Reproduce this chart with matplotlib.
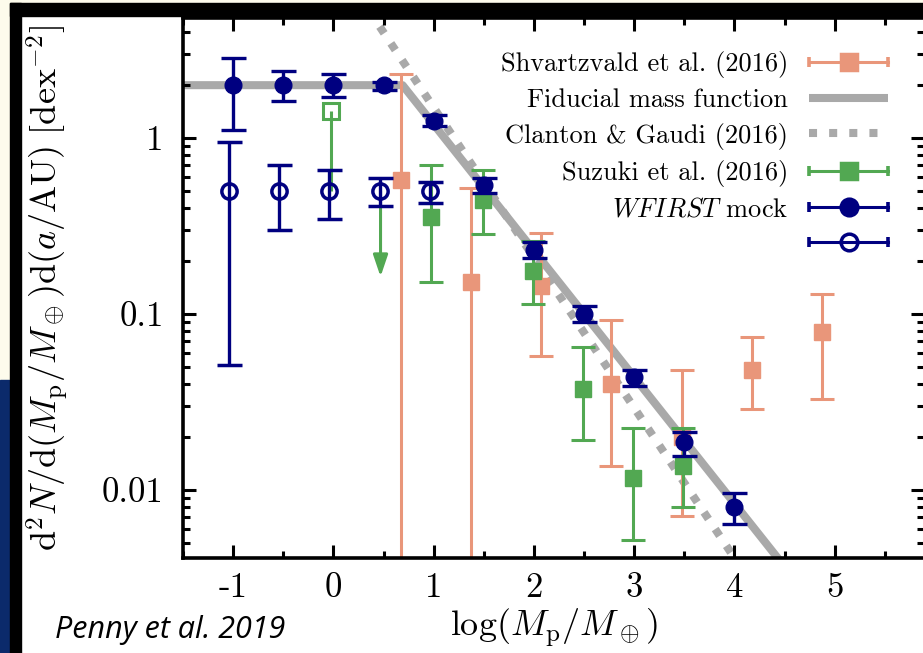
import matplotlib
matplotlib.use('Agg')
import matplotlib.pyplot as plt
from matplotlib.lines import Line2D
from matplotlib.patches import Rectangle
from matplotlib.legend_handler import HandlerLine2D
from matplotlib.ticker import FixedLocator, FixedFormatter, MultipleLocator, LogLocator, NullFormatter

# WFIRST mock, filled points (value, upper and lower end of the error bar)
wf_x = [-1, -0.5, 0, 0.5, 1, 1.5, 2, 2.5, 3, 3.5, 4]
wf_y = [2.0, 2.0, 2.0, 2.0, 1.25, 0.54, 0.232, 0.100, 0.0436, 0.0186, 0.0080]
wf_hi = [2.87, 2.41, 2.32, 2.09, 1.35, 0.59, 0.258, 0.111, 0.048, 0.0214, 0.0096]
wf_lo = [1.11, 1.63, 1.71, 1.88, 1.17, 0.49, 0.209, 0.090, 0.039, 0.0156, 0.0064]

# WFIRST mock, open points
wfo_x = [-1.04, -0.54, -0.04, 0.46, 0.96]
wfo_y = [0.5, 0.5, 0.5, 0.5, 0.5]
wfo_hi = [0.95, 0.70, 0.656, 0.59, 0.56]
wfo_lo = [0.051, 0.30, 0.349, 0.41, 0.43]

# Suzuki et al. (2016)
suz_x = [0.97, 1.49, 1.99, 2.49, 2.99, 3.49]
suz_y = [0.358, 0.443, 0.176, 0.0373, 0.0117, 0.0137]
suz_hi = [0.70, 0.656, 0.26, 0.0646, 0.0226, 0.0226]
suz_lo = [0.152, 0.286, 0.114, 0.0191, 0.00516, 0.0080]
# Suzuki limits: open square bin and the upper-limit arrow
suz_open_x = [-0.02]
suz_open_y = [1.43]
suz_open_lo = [0.5]
suz_lim_x = [0.47]
suz_lim_y = [0.5]
suz_lim_end = [0.163]

# Shvartzvald et al. (2016)
sh_x = [0.67, 1.37, 2.07, 2.77, 3.48, 4.17, 4.87]
sh_y = [0.575, 0.152, 0.145, 0.0398, 0.020, 0.0478, 0.0789]
sh_hi = [2.32, 0.52, 0.29, 0.0925, 0.0478, 0.0740, 0.130]
sh_lo = [1e-4, 1e-4, 0.0575, 0.0136, 0.0071, 0.0290, 0.0327]

# mass function models
fid_x = [-1.5, 0.69, 4.6]
fid_y = [2.0, 2.0, 0.0031]
cg_x = [0.35, 4.0]
cg_y = [5.36, 0.0041]

navy = '#000080'
salmon = '#e9967a'
green = '#52a852'
grey = 'darkgray'

plt.rcParams['font.family'] = 'serif'
plt.rcParams['font.serif'] = ['cmr10']
plt.rcParams['mathtext.fontset'] = 'cm'
plt.rcParams['axes.unicode_minus'] = False

fig = plt.figure(figsize=(9.23, 6.53), dpi=100)

# slide frame around the plot
cream = '#fdfbec'
fig.patches.append(Rectangle((0, 0), 1, 1, transform=fig.transFigure, color='white', zorder=-5))
fig.patches.append(Rectangle((0, 1 - 3 / 653), 1, 3 / 653, transform=fig.transFigure, color=cream, zorder=20))
fig.patches.append(Rectangle((0, 273 / 653), 10 / 923, 1, transform=fig.transFigure, color=cream, zorder=20))
fig.patches.append(Rectangle((0, 0), 10 / 923, 273 / 653, transform=fig.transFigure, color='#0b2a6b', zorder=20))
fig.patches.append(Rectangle((10 / 923, 0), 11 / 923, 1 - 3 / 653, transform=fig.transFigure, color='black', zorder=20))
fig.patches.append(Rectangle((10 / 923, 1 - 15.5 / 653), 1, 12.5 / 653, transform=fig.transFigure, color='black', zorder=20))

ax = fig.add_axes([183 / 923, 95 / 653, 741 / 923, 540.5 / 653])
ax.set_yscale('log')

ax.plot(fid_x, fid_y, color=grey, lw=5.8, solid_capstyle='butt', zorder=1)
ax.plot(cg_x, cg_y, color=grey, lw=5.8, ls=(0, (1, 1.5)), dash_capstyle='butt', zorder=1)

def yerr(y, hi, lo):
    return [[v - l for v, l in zip(y, lo)], [h - v for v, h in zip(y, hi)]]

ax.errorbar(sh_x, sh_y, yerr=yerr(sh_y, sh_hi, sh_lo), fmt='s', color=salmon, ms=12,
            elinewidth=2.2, capsize=8.5, capthick=2.2, zorder=2)

ax.errorbar(suz_x, suz_y, yerr=yerr(suz_y, suz_hi, suz_lo), fmt='s', color=green, ms=12,
            elinewidth=2.2, capsize=8.5, capthick=2.2, zorder=3)
ax.errorbar(suz_open_x, suz_open_y, yerr=yerr(suz_open_y, suz_open_y, suz_open_lo), fmt='s', color=green,
            mfc='none', mew=2.2, ms=11, elinewidth=2.2, capsize=0, zorder=3)
for x0, y0, y1 in zip(suz_lim_x, suz_lim_y, suz_lim_end):
    ax.annotate('', xy=(x0, y1), xytext=(x0, y0),
                arrowprops=dict(arrowstyle='-|>,head_length=0.65,head_width=0.22', color=green,
                                lw=2.2, mutation_scale=20, shrinkA=0, shrinkB=0), zorder=3)

ax.errorbar(wf_x, wf_y, yerr=yerr(wf_y, wf_hi, wf_lo), fmt='o', color=navy, ms=12,
            elinewidth=2.4, capsize=9, capthick=2.4, zorder=4)
ax.errorbar(wfo_x, wfo_y, yerr=yerr(wfo_y, wfo_hi, wfo_lo), fmt='o', color=navy, ms=11,
            mfc='none', mew=2.5, elinewidth=2.4, capsize=9, capthick=2.4, zorder=4)

ax.set_xlim(-1.5, 5.89)
ax.set_ylim(0.0041, 4.85)

ax.xaxis.set_major_locator(MultipleLocator(1))
ax.xaxis.set_minor_locator(MultipleLocator(0.5))
ax.yaxis.set_major_locator(FixedLocator([0.01, 0.1, 1]))
ax.yaxis.set_major_formatter(FixedFormatter(['0.01', '0.1', '1']))
ax.yaxis.set_minor_locator(LogLocator(base=10, subs=range(2, 10)))
ax.yaxis.set_minor_formatter(NullFormatter())

for s in ax.spines.values():
    s.set_linewidth(2.6)
ax.tick_params(which='both', direction='in', top=True, right=True, width=2.2, labelsize=25)
ax.tick_params(which='major', length=9.5)
ax.tick_params(which='minor', length=5)
ax.tick_params(axis='x', pad=10)
ax.tick_params(axis='y', pad=14)

ax.set_xlabel(r'$\log(M_\mathrm{p}/M_\oplus)$', fontsize=26, labelpad=2)
ax.set_ylabel(r'$\mathrm{d}^2N/\mathrm{d}(M_\mathrm{p}/M_\oplus)\mathrm{d}(a/\mathrm{AU})\ [\mathrm{dex}^{-2}]$',
              fontsize=26, labelpad=22)

# legend handles: horizontal bar with end caps and a centre marker
def bar_handle(color, marker, mfc):
    caps = Line2D([], [], color=color, lw=2.2, marker='|', ms=7, mew=2.6)
    mark = Line2D([], [], ls='none', marker=marker, color=color, mfc=mfc, ms=12, mew=2.5)
    return (caps, mark), caps

h_sh, c_sh = bar_handle(salmon, 's', salmon)
h_suz, c_suz = bar_handle(green, 's', green)
h_wf, c_wf = bar_handle(navy, 'o', navy)
h_wfo, c_wfo = bar_handle(navy, 'o', 'none')
h_fid = Line2D([], [], color=grey, lw=5.8, solid_capstyle='butt')
h_cg = Line2D([], [], color=grey, lw=5.8, ls=(0, (1, 1.5)), dash_capstyle='butt')

hmap = {c: HandlerLine2D(numpoints=2, marker_pad=0) for c in (c_sh, c_suz, c_wf, c_wfo)}
ax.legend([h_sh, h_fid, h_cg, h_suz, h_wf, h_wfo],
          ['Shvartzvald et al. (2016)', 'Fiducial mass function', 'Clanton & Gaudi (2016)',
           'Suzuki et al. (2016)', r'$\mathit{WFIRST}$ mock', ' '],
          handler_map=hmap, loc='upper right', bbox_to_anchor=(0.966, 0.958), frameon=False,
          markerfirst=False, fontsize=19, handlelength=3.0, handletextpad=0.8, labelspacing=0.4,
          borderaxespad=0)

fig.text(55 / 923, 15 / 653, 'Penny et al. 2019', family='Open Sans', style='italic', fontsize=22)

fig.savefig('out.png', dpi=100)
